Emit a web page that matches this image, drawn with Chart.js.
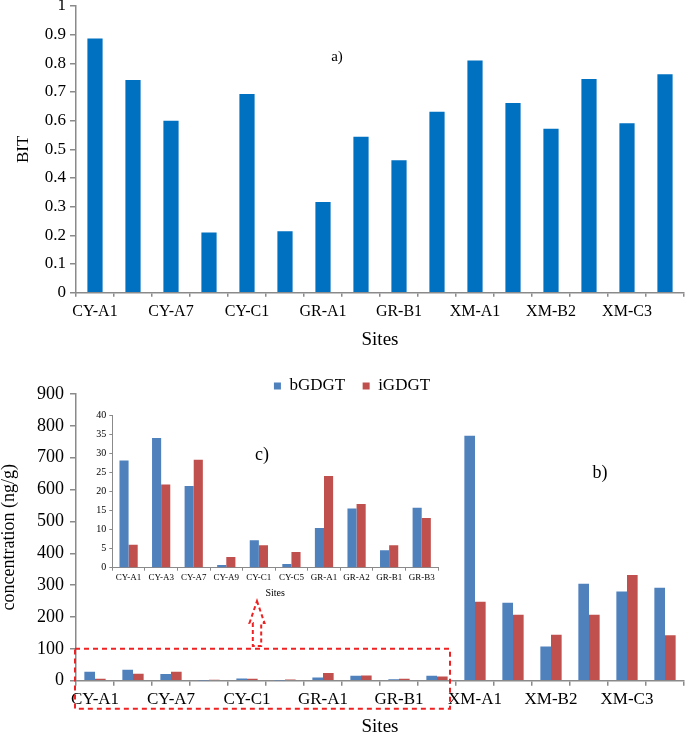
<!DOCTYPE html>
<html><head><meta charset="utf-8">
<script src="https://cdn.jsdelivr.net/npm/chart.js@4.4.1/dist/chart.umd.min.js"></script>
<style>
html,body{margin:0;padding:0;background:#fff;overflow:hidden;width:685px;height:734px;}
canvas{position:absolute;display:block;}
#cA{left:0;top:0;}
#cB{left:0;top:360px;}
#cC{left:85px;top:400px;}
</style></head><body>
<canvas id="cA" width="685" height="360"></canvas>
<canvas id="cB" width="685" height="380"></canvas>
<canvas id="cC" width="360" height="205"></canvas>
<script>
// ---- data ----
const sites = ['CY-A1','CY-A3','CY-A7','CY-A9','CY-C1','CY-C5','GR-A1','GR-A2','GR-B1','GR-B3','XM-A1','XM-A3','XM-B2','XM-B4','XM-C3','XM-C5'];
const bitValues = [0.887,0.742,0.600,0.210,0.693,0.214,0.316,0.544,0.462,0.631,0.810,0.662,0.572,0.745,0.591,0.762];
const bGDGT = [28.1,34.0,21.4,0.7,7.2,1.0,10.4,15.5,4.6,15.7,769,245,107,304,280,292];
const iGDGT = [6.0,21.8,28.3,2.8,5.9,4.1,24.0,16.7,5.9,13.0,248,207,144,207,332,143];
const insetSites = sites.slice(0,10);
const insetB = bGDGT.slice(0,10);
const insetI = iGDGT.slice(0,10);

const SERIF = '"Liberation Serif", "Times New Roman", serif';
const AXIS = '#8a8a8a';
const BLUE = '#0070C0', BBLUE = '#4F81BD', BRED = '#C0504D';

function panelLabel(text, x, y, size){
  return {id:'lbl'+text.replace(')',''), afterDraw(chart){
    const c = chart.ctx; c.save();
    c.font = size + 'px ' + SERIF; c.fillStyle = '#000';
    c.textAlign = 'center'; c.textBaseline = 'middle';
    c.fillText(text, x, y); c.restore();
  }};
}
function everyOther(v, i){ return i % 2 === 0 ? this.getLabelForValue(v) : ''; }

// ---- chart a) ----
new Chart(document.getElementById('cA'), {
  type:'bar',
  data:{labels:sites, datasets:[{label:'BIT', data:bitValues, backgroundColor:BLUE, borderWidth:0, categoryPercentage:1, barPercentage:0.4}]},
  options:{
    responsive:false, animation:false, devicePixelRatio:1,
    layout:{padding:{left:0,right:1,top:0,bottom:0}},
    plugins:{legend:{display:false}, tooltip:{enabled:false}},
    scales:{
      x:{offset:true,
        grid:{drawOnChartArea:false, drawTicks:true, tickLength:4, offset:true, color:AXIS, lineWidth:1.5},
        border:{display:true, color:AXIS, width:1.5},
        ticks:{autoSkip:false, maxRotation:0, minRotation:0, padding:5, color:'#000', font:{family:SERIF, size:16}, callback:everyOther},
        title:{display:true, text:'Sites', color:'#000', font:{family:SERIF, size:19, lineHeight:1}, padding:{top:0, bottom:10.5}},
        afterFit:s=>{ s.height = 360-292.7; s.paddingLeft = 0; s.paddingRight = 0; }
      },
      y:{min:0, max:1,
        ticks:{stepSize:0.1, padding:4, color:'#000', font:{family:SERIF, size:17}, callback:v=>String(Number(v.toFixed(1)))},
        grid:{drawOnChartArea:false, drawTicks:true, tickLength:6, color:AXIS, lineWidth:1.5},
        border:{display:true, color:AXIS, width:1.5},
        title:{display:true, text:'BIT', color:'#000', font:{family:SERIF, size:17, lineHeight:1}, padding:{top:15, bottom:0}},
        afterFit:s=>{ s.width = 76; s.paddingTop = 6; s.paddingBottom = 0; }
      }
    }
  },
  plugins:[panelLabel('a)', 337, 57, 15)]
});

// ---- chart b) ----
const legendFix = {id:'legendFix', beforeUpdate(chart){
  const lg = chart.legend;
  if (lg && !lg._fixed){ const f = lg.fit; lg.fit = function(){ f.call(this); this.height = 34; }; lg._fixed = true; }
}};
const redBox = {id:'redBox', afterDraw(chart){
  const {ctx, scales:{x, y}} = chart;
  const left = x.left - 1;
  const right = x.getPixelForValue(9) + 13;
  const top = y.getPixelForValue(100);
  const bottom = y.getPixelForValue(0) + 28;
  ctx.save();
  ctx.strokeStyle = '#EE2222'; ctx.lineWidth = 2; ctx.setLineDash([5,4]);
  ctx.strokeRect(left, top, right-left, bottom-top);
  const ax = x.getPixelForValue(4) + 10;
  const tip = y.getPixelForValue(250);
  ctx.setLineDash([4,3]);
  ctx.beginPath();
  ctx.moveTo(ax, tip);
  ctx.lineTo(ax+7.5, tip+22);
  ctx.lineTo(ax+4.2, tip+22);
  ctx.lineTo(ax+4.2, tip+45);
  ctx.lineTo(ax-4.2, tip+45);
  ctx.lineTo(ax-4.2, tip+22);
  ctx.lineTo(ax-7.5, tip+22);
  ctx.closePath();
  ctx.stroke();
  ctx.restore();
}};
new Chart(document.getElementById('cB'), {
  type:'bar',
  data:{labels:sites, datasets:[
    {label:'bGDGT', data:bGDGT, backgroundColor:BBLUE, borderWidth:0, categoryPercentage:0.56, barPercentage:1},
    {label:'iGDGT', data:iGDGT, backgroundColor:BRED, borderWidth:0, categoryPercentage:0.56, barPercentage:1}
  ]},
  options:{
    responsive:false, animation:false, devicePixelRatio:1,
    layout:{padding:{left:20,right:1,top:0,bottom:0}},
    plugins:{
      legend:{display:true, position:'top', align:'center',
        labels:{boxWidth:7, boxHeight:7, padding:17.5, color:'#000', font:{family:SERIF, size:17}}},
      tooltip:{enabled:false}
    },
    scales:{
      x:{offset:true,
        grid:{drawOnChartArea:false, drawTicks:true, tickLength:5, offset:true, color:AXIS, lineWidth:1.5},
        border:{display:true, color:AXIS, width:1.5},
        ticks:{autoSkip:false, maxRotation:0, minRotation:0, padding:4, color:'#000', font:{family:SERIF, size:17}, callback:everyOther},
        title:{display:true, text:'Sites', color:'#000', font:{family:SERIF, size:19, lineHeight:1}, padding:{top:0, bottom:3.5}},
        afterFit:s=>{ s.height = 380-320.7; s.paddingLeft = 0; s.paddingRight = 0; }
      },
      y:{min:0, max:900,
        ticks:{stepSize:100, padding:6, color:'#000', font:{family:SERIF, size:18}},
        grid:{drawOnChartArea:false, drawTicks:true, tickLength:6, color:AXIS, lineWidth:1.5},
        border:{display:true, color:AXIS, width:1.5},
        title:{display:true, text:'concentration (ng/g)', color:'#000', font:{family:SERIF, size:18, lineHeight:1}, padding:{top:-20, bottom:0}},
        afterFit:s=>{ s.width = 56; s.paddingTop = 34; s.paddingBottom = 0; }
      }
    }
  },
  plugins:[legendFix, redBox, panelLabel('b)', 600, 113, 18)]
});

// ---- chart c) inset ----
new Chart(document.getElementById('cC'), {
  type:'bar',
  data:{labels:insetSites, datasets:[
    {label:'bGDGT', data:insetB, backgroundColor:BBLUE, borderWidth:0, categoryPercentage:0.56, barPercentage:1},
    {label:'iGDGT', data:insetI, backgroundColor:BRED, borderWidth:0, categoryPercentage:0.56, barPercentage:1}
  ]},
  options:{
    responsive:false, animation:false, devicePixelRatio:1,
    layout:{padding:{left:0,right:7,top:0,bottom:0}},
    plugins:{legend:{display:false}, tooltip:{enabled:false}},
    scales:{
      x:{offset:true,
        grid:{drawOnChartArea:false, drawTicks:true, tickLength:3, offset:true, color:AXIS, lineWidth:1},
        border:{display:true, color:AXIS, width:1},
        ticks:{autoSkip:false, maxRotation:0, minRotation:0, padding:2, color:'#000', font:{family:SERIF, size:9}},
        title:{display:true, text:'Sites', color:'#000', font:{family:SERIF, size:10, lineHeight:1}, padding:{top:0, bottom:6.5}},
        afterFit:s=>{ s.height = 205-167.7; s.paddingLeft = 0; s.paddingRight = 0; }
      },
      y:{min:0, max:40,
        ticks:{stepSize:5, padding:3, color:'#000', font:{family:SERIF, size:10}},
        grid:{drawOnChartArea:false, drawTicks:true, tickLength:3, color:AXIS, lineWidth:1},
        border:{display:true, color:AXIS, width:1},
        afterFit:s=>{ s.width = 27.3; s.paddingTop = 15; s.paddingBottom = 0; }
      }
    }
  },
  plugins:[panelLabel('c)', 177, 55, 18)]
});
</script>
</body></html>
